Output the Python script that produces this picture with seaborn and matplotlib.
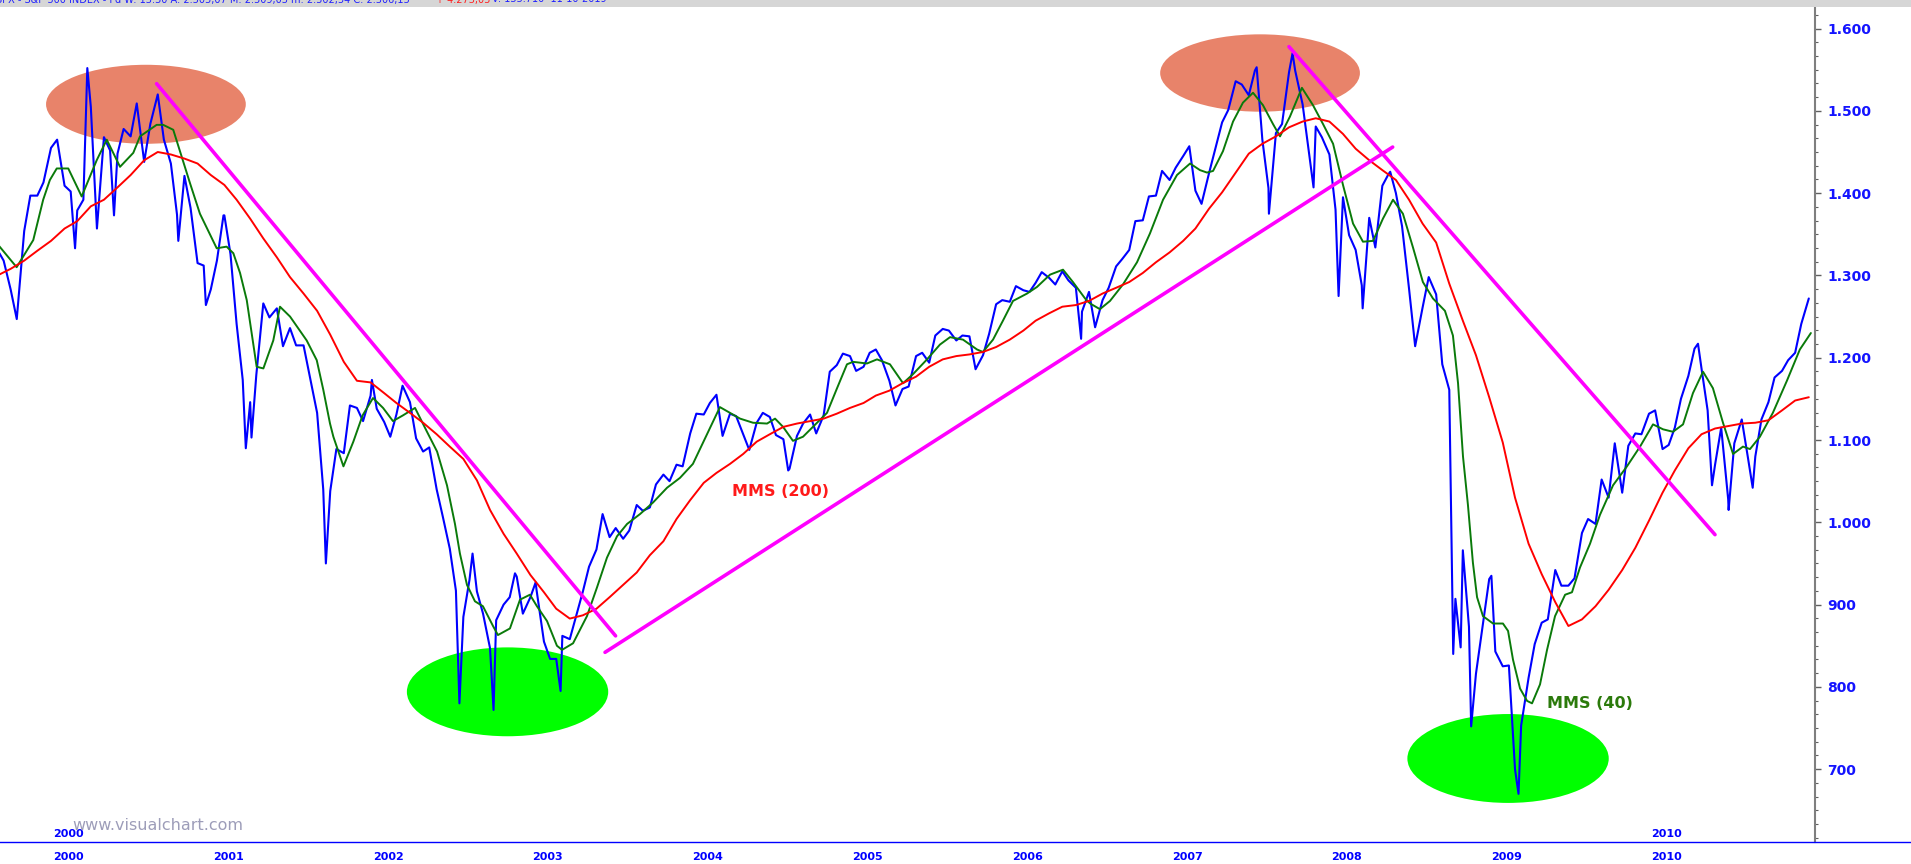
import numpy as np
import pandas as pd
import matplotlib
matplotlib.use("Agg")
import matplotlib.pyplot as plt
from matplotlib.patches import Ellipse, Rectangle
from matplotlib.ticker import FixedLocator, MultipleLocator, FuncFormatter
import seaborn as sns

# S&P 500 close, read on the 1st and 15th of each month (Sep 1999 .. Jan 2011)
price_start = "1999-09-01"
price_values = [
    1331, 1318, 1283, 1247, 1354, 1397, 1397, 1413,
    1455, 1465, 1409, 1402, 1379, 1392, 1505, 1357, 1468, 1452, 1448, 1478,
    1469, 1509, 1438, 1484, 1520, 1465, 1436, 1374, 1421, 1382, 1315, 1312,
    1283, 1318, 1373, 1326, 1241, 1173, 1146, 1179, 1266, 1249, 1260, 1214,
    1236, 1215, 1215, 1178, 1133, 1040, 1038, 1089, 1084, 1142, 1139, 1123,
    1154, 1138, 1122, 1104, 1131, 1166, 1146, 1102, 1086, 1091, 1040, 1007,
    968, 917, 885, 930, 916, 889, 847, 881, 900, 909, 934, 889,
    909, 918, 855, 834, 834, 862, 858, 885, 916, 946, 967, 1010,
    982, 993, 980, 990, 1021, 1014, 1018, 1046, 1058, 1050, 1070, 1068,
    1108, 1132, 1131, 1145, 1155, 1105, 1132, 1129, 1107, 1088, 1121, 1133,
    1128, 1106, 1101, 1065, 1105, 1120, 1131, 1108, 1130, 1183, 1191, 1205,
    1202, 1184, 1189, 1206, 1210, 1197, 1172, 1142, 1162, 1165, 1202, 1206,
    1194, 1227, 1235, 1233, 1221, 1227, 1226, 1186, 1203, 1229, 1265, 1270,
    1268, 1287, 1282, 1280, 1291, 1304, 1297, 1289, 1305, 1294, 1285, 1256,
    1280, 1237, 1270, 1285, 1311, 1320, 1331, 1366, 1367, 1396, 1397, 1427,
    1416, 1431, 1445, 1457, 1403, 1387, 1424, 1453, 1486, 1501, 1536, 1532,
    1519, 1549, 1465, 1406, 1473, 1484, 1547, 1549, 1508, 1451, 1481, 1468,
    1447, 1380, 1395, 1349, 1331, 1288, 1370, 1334, 1409, 1423, 1400, 1360,
    1284, 1214, 1261, 1298, 1277, 1192, 1161, 907, 966, 873, 816, 869,
    931, 843, 825, 826, 700, 753, 811, 852, 878, 882, 942, 923,
    923, 932, 987, 1004, 998, 1052, 1030, 1096, 1036, 1093, 1108, 1107,
    1132, 1136, 1089, 1094, 1115, 1150, 1178, 1211, 1187, 1136, 1070, 1115,
    1028, 1096, 1125, 1079, 1080, 1125, 1146, 1176, 1184, 1197, 1206, 1241,
    1272,
]

# daily extremes that stick out of the price line
spike_dates = [
    "2000-02-25", "2000-03-24", "2000-05-24", "2000-10-18", "2000-12-20",
    "2001-01-30", "2001-03-22", "2001-04-04", "2001-09-21", "2002-01-04",
    "2002-07-23", "2002-08-22", "2002-10-09", "2002-11-27", "2003-01-13",
    "2003-03-11", "2004-08-12", "2006-06-13", "2007-07-19", "2007-08-16",
    "2007-10-09", "2007-11-26", "2008-01-22", "2008-03-17", "2008-05-19",
    "2008-10-10", "2008-10-27", "2008-11-20", "2009-01-06", "2009-03-09",
    "2010-04-23", "2010-05-25", "2010-07-02", "2010-08-26",
]
spike_values = [
    1333, 1552, 1373, 1342, 1264,
    1373, 1090, 1103, 950, 1173,
    780, 962, 772, 938, 927,
    795, 1063, 1223, 1553, 1375,
    1570, 1407, 1275, 1260, 1426,
    840, 848, 752, 935, 670,
    1217, 1045, 1015, 1042,
]

# MMS (200), monthly (1st of month)
ma200_start = "1999-09-01"
ma200_values = [
    1300, 1308, 1318, 1330,
    1342, 1357, 1366, 1384, 1392, 1407, 1422, 1440, 1450, 1447, 1442, 1436,
    1422, 1410, 1392, 1369, 1345, 1322, 1298, 1278, 1257, 1228, 1195, 1172,
    1170, 1157, 1145, 1133, 1121, 1107, 1092, 1077, 1051, 1015, 986, 962,
    936, 915, 895, 883, 887, 895, 909, 924, 939, 960, 977, 1004,
    1027, 1048, 1060, 1071, 1083, 1098, 1107, 1116, 1120, 1123, 1126, 1132,
    1139, 1145, 1154, 1160, 1169, 1177, 1189, 1198, 1202, 1204, 1207, 1213,
    1222, 1233, 1245, 1254, 1262, 1264, 1269, 1278, 1285, 1292, 1303, 1316,
    1328, 1342, 1357, 1381, 1401, 1425, 1448, 1460, 1469, 1480, 1487, 1491,
    1487, 1472, 1454, 1440, 1428, 1416, 1392, 1363, 1340, 1290, 1245, 1203,
    1152, 1097, 1030, 974, 937, 903, 874, 882, 898, 918, 942, 969,
    1002, 1036, 1063, 1090, 1107, 1114, 1117, 1120, 1121, 1124, 1136, 1148,
    1152,
]

# MMS (40), read at its turning points (decimal year, level)
ma40_years = [
    1999.67, 1999.785, 1999.889, 1999.951, 1999.993, 2000.036, 2000.108, 2000.192,
    2000.286, 2000.349, 2000.432, 2000.515, 2000.557, 2000.661, 2000.702, 2000.765,
    2000.818, 2000.870, 2000.932, 2001.037, 2001.099, 2001.141, 2001.183, 2001.225,
    2001.287, 2001.329, 2001.391, 2001.433, 2001.496, 2001.600, 2001.663, 2001.704,
    2001.746, 2001.767, 2001.830, 2001.892, 2001.950, 2002.015, 2002.078, 2002.140,
    2002.203, 2002.278, 2002.353, 2002.416, 2002.478, 2002.528, 2002.559, 2002.603,
    2002.653, 2002.703, 2002.766, 2002.797, 2002.872, 2002.935, 2002.997, 2003.041,
    2003.104, 2003.166, 2003.198, 2003.267, 2003.354, 2003.417, 2003.479, 2003.542,
    2003.605, 2003.686, 2003.767, 2003.855, 2003.936, 2004.017, 2004.105, 2004.186,
    2004.249, 2004.312, 2004.393, 2004.481, 2004.531, 2004.581, 2004.643, 2004.706,
    2004.794, 2004.856, 2004.919, 2004.981, 2005.019, 2005.106, 2005.169, 2005.250,
    2005.332, 2005.394, 2005.482, 2005.563, 2005.626, 2005.707, 2005.795, 2005.832,
    2005.895, 2005.957, 2006.020, 2006.108, 2006.170, 2006.252, 2006.333, 2006.395,
    2006.471, 2006.502, 2006.564, 2006.627, 2006.708, 2006.796, 2006.877, 2006.959,
    2007.046, 2007.128, 2007.190, 2007.234, 2007.272, 2007.334, 2007.397, 2007.459,
    2007.522, 2007.584, 2007.647, 2007.691, 2007.753, 2007.828, 2007.897, 2007.960,
    2008.023, 2008.085, 2008.148, 2008.210, 2008.273, 2008.335, 2008.398, 2008.460,
    2008.523, 2008.585, 2008.648, 2008.723, 2008.773, 2008.805, 2008.836, 2008.867,
    2008.898, 2008.924, 2008.961, 2009.024, 2009.086, 2009.118, 2009.149, 2009.193,
    2009.237, 2009.268, 2009.318, 2009.362, 2009.412, 2009.475, 2009.518, 2009.568,
    2009.631, 2009.693, 2009.775, 2009.862, 2009.944, 2010.025, 2010.088, 2010.150,
    2010.213, 2010.275, 2010.338, 2010.400, 2010.463, 2010.526, 2010.588, 2010.632,
    2010.694, 2010.775, 2010.863, 2010.944, 2011.013,
]
ma40_values = [
    1337, 1310, 1343, 1392, 1416, 1430, 1430, 1396,
    1440, 1465, 1432, 1449, 1469, 1483, 1483, 1477,
    1444, 1412, 1375, 1333, 1335, 1327, 1303, 1270,
    1189, 1187, 1221, 1262, 1250, 1221, 1197, 1161,
    1120, 1104, 1068, 1098, 1130, 1151, 1139, 1123,
    1130, 1139, 1110, 1086, 1045, 998, 962, 924,
    904, 898, 874, 863, 871, 906, 912, 898,
    880, 850, 845, 853, 886, 921, 957, 983,
    998, 1010, 1024, 1042, 1054, 1071, 1107, 1140,
    1133, 1126, 1121, 1120, 1126, 1116, 1099, 1104,
    1121, 1133, 1163, 1192, 1195, 1193, 1198, 1192,
    1169, 1180, 1198, 1216, 1225, 1222, 1210, 1207,
    1222, 1245, 1269, 1278, 1286, 1301, 1307, 1292,
    1272, 1266, 1259, 1269, 1289, 1316, 1351, 1392,
    1422, 1436, 1428, 1425, 1427, 1451, 1487, 1510,
    1522, 1507, 1484, 1469, 1493, 1528, 1507, 1484,
    1460, 1410, 1363, 1341, 1342, 1369, 1392, 1375,
    1334, 1292, 1272, 1257, 1227, 1169, 1080, 1021,
    951, 909, 886, 877, 877, 868, 833, 798,
    783, 780, 803, 845, 886, 912, 915, 945,
    974, 1009, 1045, 1068, 1092, 1119, 1113, 1110,
    1119, 1157, 1183, 1163, 1121, 1083, 1092, 1089,
    1104, 1133, 1172, 1210, 1230,
]

# magenta trend lines: (start year, end year), (start level, end level)
trend_years = [(2000.661, 2003.533), (2003.467, 2008.396), (2007.747, 2010.413)]
trend_levels = [(1533, 862), (842, 1456), (1578, 985)]

# highlighted zones: centre year, centre level, width in years, height in points
zone_years = [2000.594, 2007.566, 2002.857, 2009.118]
zone_levels = [1508, 1546, 794, 713]
zone_widths = [1.25, 1.25, 1.26, 1.26]
zone_heights = [96, 94, 108, 108]
zone_colors = ["#e8836a", "#e8836a", "#00ff00", "#00ff00"]

year_ticks = list(range(2000, 2012))
year_labels = [str(y) for y in range(2000, 2011)] + [""]
level_ticks = list(range(700, 1700, 100))


def to_year(dates):
    dates = pd.DatetimeIndex(dates)
    return np.asarray(dates.year + (dates.dayofyear - 1) / 365.25)


def main():
    sns.set_theme(style="white")
    plt.rcParams["font.family"] = ["DejaVu Sans"]

    base = pd.DataFrame({
        "year": to_year(pd.date_range(price_start, periods=len(price_values), freq="SMS")),
        "close": price_values,
    })
    spikes = pd.DataFrame({"year": to_year(spike_dates), "close": spike_values})
    price = pd.concat([base, spikes]).sort_values("year").reset_index(drop=True)

    ma200 = pd.DataFrame({
        "year": to_year(pd.date_range(ma200_start, periods=len(ma200_values), freq="MS")),
        "level": ma200_values,
    })
    ma40 = pd.DataFrame({"year": ma40_years, "level": ma40_values})

    W, H = 1911, 864
    fig = plt.figure(figsize=(W / 100, H / 100), dpi=100)
    ax = fig.add_axes([0, 1 - 842 / H, 1, 834 / H])

    # zones behind everything
    for cx, cy, w, h, c in zip(zone_years, zone_levels, zone_widths, zone_heights, zone_colors):
        ax.add_patch(Ellipse((cx, cy), w, h, facecolor=c, edgecolor="none", zorder=1))

    sns.lineplot(data=price, x="year", y="close", ax=ax, color="#0000ff",
                 linewidth=1.5, estimator=None, sort=False, zorder=3)
    sns.lineplot(data=ma40, x="year", y="level", ax=ax, color="#0a7a0a",
                 linewidth=1.4, estimator=None, sort=False, zorder=4)
    sns.lineplot(data=ma200, x="year", y="level", ax=ax, color="#ff0000",
                 linewidth=1.4, estimator=None, sort=False, zorder=4)
    for xs, ys in zip(trend_years, trend_levels):
        sns.lineplot(x=list(xs), y=list(ys), ax=ax, color="#ff00ff",
                     linewidth=2.6, estimator=None, sort=False, zorder=5)

    ax.text(2004.262, 1038, "MMS (200)", color="#ff1a1a", fontsize=11.5,
            fontweight="bold", va="center", ha="left", zorder=6)
    ax.text(2009.360, 780, "MMS (40)", color="#2b7a0b", fontsize=11.5,
            fontweight="bold", va="center", ha="left", zorder=6)

    # axes limits: the chart pane runs across the whole figure
    x_left = 2000 - 51 / 159.8
    x_right = 2000 + (W - 51) / 159.8
    ax.set_xlim(x_left, x_right)
    ax.set_ylim(611.5, 1625)
    ax.set_xlabel("")
    ax.set_ylabel("")

    for side in ["left", "top"]:
        ax.spines[side].set_visible(False)
    ax.spines["right"].set_position(("data", 2000 + (1815 - 51) / 159.8))
    ax.spines["right"].set_color("#7f7f7f")
    ax.spines["right"].set_linewidth(1.5)
    ax.spines["bottom"].set_color("#0000ff")
    ax.spines["bottom"].set_linewidth(1.0)

    # price scale on the right
    ax.yaxis.tick_right()
    ax.yaxis.set_major_locator(FixedLocator(level_ticks))
    ax.yaxis.set_minor_locator(MultipleLocator(100 / 6))
    ax.yaxis.set_major_formatter(FuncFormatter(lambda v, p: f"{v:,.0f}".replace(",", ".")))
    ax.tick_params(axis="y", which="major", direction="out", length=4, width=1,
                   color="#606060", pad=5, labelsize=10, labelcolor="#1414ff")
    ax.tick_params(axis="y", which="minor", direction="out", length=2.5, width=0.8,
                   color="#606060")
    for lab in ax.get_yticklabels():
        lab.set_fontweight("bold")

    # time scale
    ax.xaxis.remove_overlapping_locs = False
    ax.xaxis.set_major_locator(FixedLocator(year_ticks))
    ax.xaxis.set_minor_locator(FixedLocator([2000, 2010]))
    ax.tick_params(axis="x", which="major", direction="out", length=6, width=0.9,
                   color="#0000ff", labelbottom=False)
    ax.tick_params(axis="x", which="minor", direction="in", length=7, width=0.9,
                   color="#0000ff", labelbottom=False)
    for yr, lab in zip(year_ticks, year_labels):
        ax.annotate(lab, xy=(yr, 0), xycoords=("data", "axes fraction"),
                    xytext=(1.5, -7), textcoords="offset points", ha="left", va="top",
                    fontsize=8, fontweight="bold", color="#0000ff", annotation_clip=False)
    for yr in [2000, 2010]:
        ax.annotate(str(yr), xy=(yr, 0), xycoords=("data", "axes fraction"),
                    xytext=(1.5, 2), textcoords="offset points", ha="left", va="bottom",
                    fontsize=8, fontweight="bold", color="#0000ff", annotation_clip=False)

    # watermark
    fig.text(72 / W, 1 - 826 / H, "www.visualchart.com", fontsize=11.5,
             color="#9d9db9", ha="left", va="center")

    # header strip of the chart window, cut off at the top
    fig.add_artist(Rectangle((0, 1 - 7 / H), 1, 7 / H, transform=fig.transFigure,
                             facecolor="#d6d6d6", edgecolor="none", zorder=8))
    head_y = 1 + 0.5 / H
    fig.text(-4 / W, head_y, "SPX - S&P 500 INDEX - Fd W: 13:30 A: 2.505,07 M: 2.509,03 m: 2.502,54 C: 2.506,15",
             fontsize=7, color="#2020ff", ha="left", va="center", zorder=9)
    fig.text(436 / W, head_y, "+ 4.273,05", fontsize=7, color="#ff2020",
             ha="left", va="center", zorder=9)
    fig.text(492 / W, head_y, "V: 135.710  11-10-2019", fontsize=7, color="#2020ff",
             ha="left", va="center", zorder=9)

    fig.savefig("out.png", dpi=100, facecolor="white")
    plt.close(fig)


if __name__ == "__main__":
    main()
